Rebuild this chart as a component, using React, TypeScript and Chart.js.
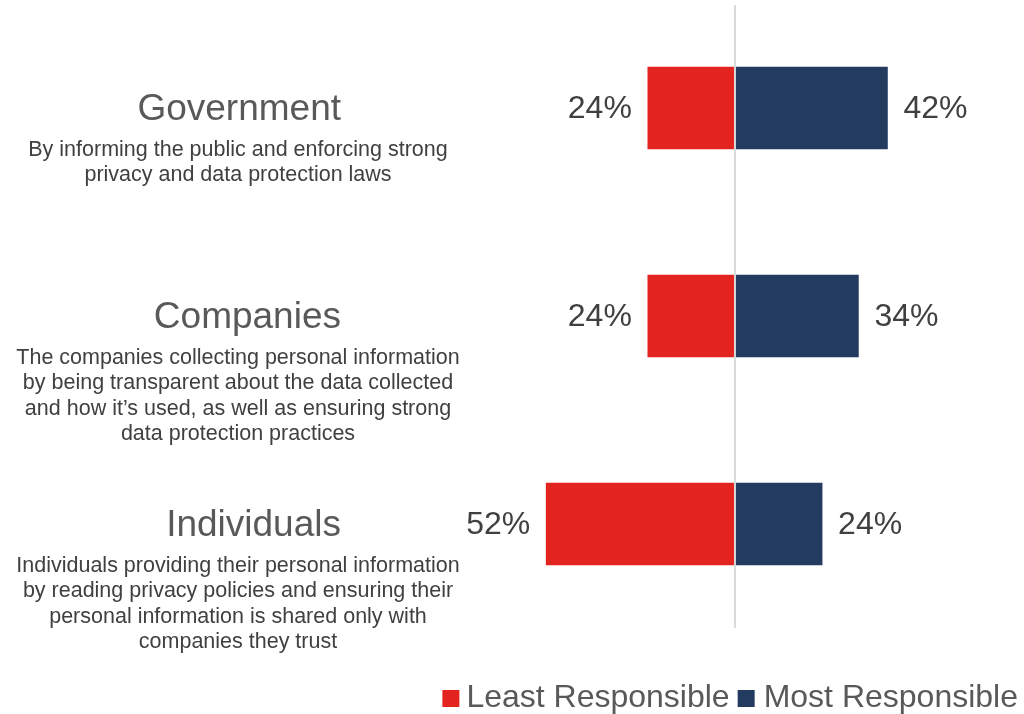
import React, { useEffect, useRef } from "react";
import { Chart, registerables } from "chart.js";

Chart.register(...registerables);

const categories = ["Government", "Companies", "Individuals"];
const descriptions = [
  ["By informing the public and enforcing strong", "privacy and data protection laws"],
  [
    "The companies collecting personal information",
    "by being transparent about the data collected",
    "and how it\u2019s used, as well as ensuring strong",
    "data protection practices",
  ],
  [
    "Individuals providing their personal information",
    "by reading privacy policies and ensuring their",
    "personal information is shared only with",
    "companies they trust",
  ],
];
const leastResponsible = [24, 24, 52];
const mostResponsible = [42, 34, 24];
const seriesNames = ["Least Responsible", "Most Responsible"];
const seriesColors = ["#E3241E", "#243B60"];

const FONT = "'Liberation Sans', Arial, sans-serif";

const decorPlugin = {
  id: "decor",
  afterDatasetsDraw(chart: any) {
    const ctx = chart.ctx as CanvasRenderingContext2D;
    const xs = chart.scales.x;
    const ys = chart.scales.y;
    const zero = xs.getPixelForValue(0);
    ctx.save();
    // center line
    ctx.strokeStyle = "#D9D9D9";
    ctx.lineWidth = 2;
    ctx.beginPath();
    ctx.moveTo(zero, 5);
    ctx.lineTo(zero, 628);
    ctx.stroke();

    // value labels
    ctx.font = `32px ${FONT}`;
    ctx.fillStyle = "#404040";
    ctx.textBaseline = "middle";
    const m0 = chart.getDatasetMeta(0);
    const m1 = chart.getDatasetMeta(1);
    m0.data.forEach((bar: any, i: number) => {
      ctx.textAlign = "right";
      ctx.fillText(`${leastResponsible[i]}%`, bar.x - 16, bar.y + 1);
    });
    m1.data.forEach((bar: any, i: number) => {
      ctx.textAlign = "left";
      ctx.fillText(`${mostResponsible[i]}%`, bar.x + 16, bar.y + 1);
    });

    // category titles and descriptions
    categories.forEach((c, i) => {
      const y = ys.getPixelForValue(i);
      ctx.font = `37px ${FONT}`;
      ctx.fillStyle = "#595959";
      ctx.textAlign = "right";
      ctx.fillText(c, 341, y + 2);
      ctx.font = `21.5px ${FONT}`;
      ctx.fillStyle = "#404040";
      ctx.textAlign = "center";
      descriptions[i].forEach((line, j) => {
        ctx.fillText(line, 238, y + 42 + j * 25.5);
      });
    });

    // legend
    ctx.font = `32px ${FONT}`;
    ctx.textAlign = "left";
    const w1 = ctx.measureText(seriesNames[0]).width;
    const w2 = ctx.measureText(seriesNames[1]).width;
    const t2 = 1018 - w2;
    const b2 = t2 - 9 - 17;
    const t1 = b2 - 8 - w1;
    const b1 = t1 - 7 - 17;
    ctx.fillStyle = seriesColors[0];
    ctx.fillRect(b1, 690, 17, 17);
    ctx.fillStyle = seriesColors[1];
    ctx.fillRect(b2, 690, 17, 17);
    ctx.fillStyle = "#595959";
    ctx.fillText(seriesNames[0], t1, 698);
    ctx.fillText(seriesNames[1], t2, 698);
    ctx.restore();
  },
};

export default function App() {
  const ref = useRef<HTMLCanvasElement | null>(null);
  useEffect(() => {
    if (!ref.current) return;
    const chart = new Chart(ref.current, {
      type: "bar",
      data: {
        labels: categories,
        datasets: [
          {
            label: seriesNames[0],
            data: leastResponsible.map((v) => -v),
            backgroundColor: seriesColors[0],
            barThickness: 82,
          },
          {
            label: seriesNames[1],
            data: mostResponsible,
            backgroundColor: seriesColors[1],
            barThickness: 82,
          },
        ],
      },
      options: {
        indexAxis: "y",
        responsive: false,
        animation: false,
        layout: { padding: { left: 430, right: 24, top: 4, bottom: 86 } },
        scales: {
          x: { stacked: true, min: -84, max: 73, display: false, grid: { display: false } },
          y: { stacked: true, display: false, grid: { display: false } },
        },
        plugins: {
          legend: { display: false },
          tooltip: { enabled: false },
          title: { display: false },
        },
      },
      plugins: [decorPlugin],
    });
    return () => chart.destroy();
  }, []);
  return (
    <div style={{ position: "absolute", left: 0, top: 0, width: 1024, height: 714, background: "#fff" }}>
      <canvas ref={ref} width={1024} height={714} />
    </div>
  );
}
